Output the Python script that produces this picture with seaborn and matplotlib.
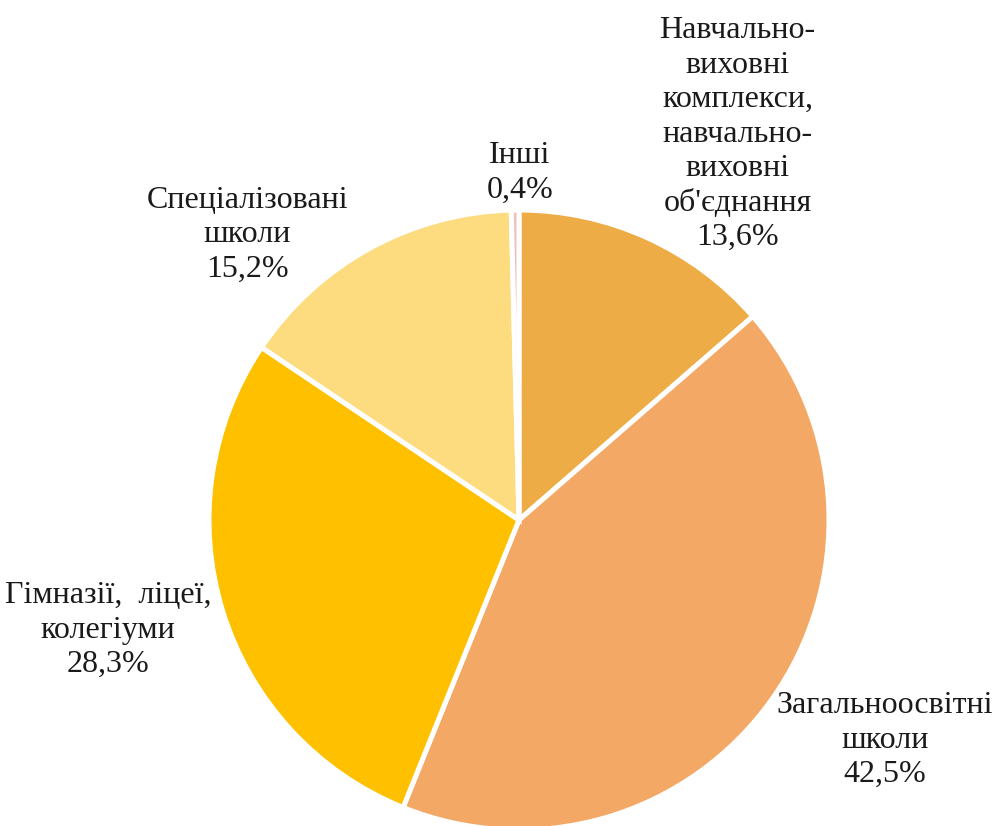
import matplotlib
matplotlib.use("Agg")
import matplotlib.pyplot as plt
import seaborn as sns

categories = [
    "Навчально-\nвиховні\nкомплекси,\nнавчально-\nвиховні\nоб'єднання",
    "Загальноосвітні\nшколи",
    "Гімназії,  ліцеї,\nколегіуми",
    "Спеціалізовані\nшколи",
    "Інші",
]
values = [13.6, 42.5, 28.3, 15.2, 0.4]
value_labels = ["13,6%", "42,5%", "28,3%", "15,2%", "0,4%"]
colors = ["#EEAC46", "#F4A866", "#FFC000", "#FDDC80", "#F0C0C0"]
label_pos = [(0.705, 1.245), (1.18, -0.71), (-1.325, -0.355), (-0.877, 0.92), (0.003, 1.12)]

sns.set_theme(style="white")
plt.rcParams["font.family"] = ["Liberation Serif", "DejaVu Serif", "DejaVu Sans"]

fig = plt.figure(figsize=(9.97, 8.26), dpi=100)
cx, cy, r = 519, 520, 310
W, H = 997, 826
ax = fig.add_axes([(cx - r) / W, (H - cy - r) / H, 2 * r / W, 2 * r / H])
wedges, _ = ax.pie(values, colors=colors, startangle=90, counterclock=False,
                   radius=1.0, wedgeprops=dict(edgecolor="white", linewidth=3.6))
ax.set_xlim(-1, 1)
ax.set_ylim(-1, 1)
ax.set_aspect("equal")
ax.axis("off")
for cat, vl, (x, y) in zip(categories, value_labels, label_pos):
    ax.text(x, y, cat + "\n" + vl, ha="center", va="center", fontsize=23,
            linespacing=1.25, color="#1a1a1a", clip_on=False)

fig.savefig("out.png", dpi=100)
